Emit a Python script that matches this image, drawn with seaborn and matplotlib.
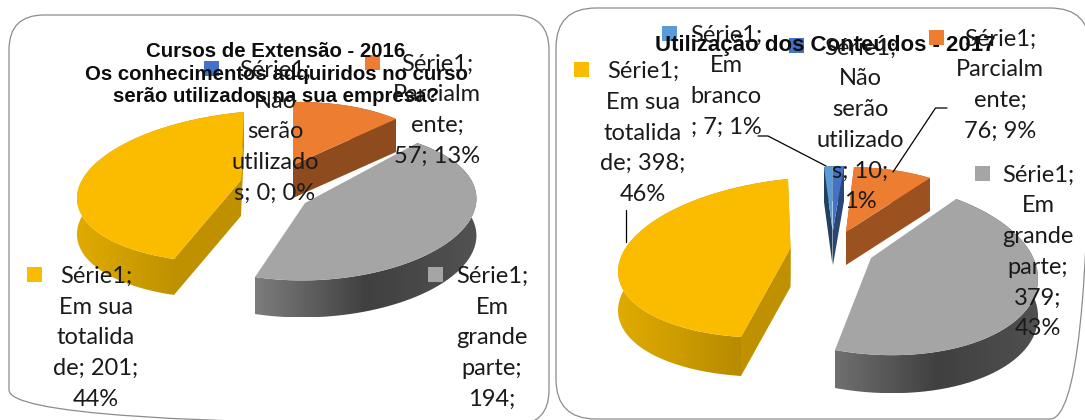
import numpy as np
import seaborn as sns
import matplotlib
matplotlib.use("Agg")
import matplotlib.pyplot as plt
from matplotlib.colors import LinearSegmentedColormap
from matplotlib.patches import FancyBboxPatch, PathPatch, Polygon, Rectangle
from matplotlib.path import Path
from matplotlib.transforms import Transform

# =======================
# Data
# =======================
values_2016 = [0, 57, 194, 201]
labels_2016 = [
    "Série1;\nNão\nserão\nutilizado\ns; 0; 0%",
    "Série1;\nParcialm\nente;\n57; 13%",
    "Série1;\nEm\ngrande\nparte;\n194;",
    "Série1;\nEm sua\ntotalida\nde; 201;\n44%",
]
values_2017 = [7, 10, 76, 379, 398]
labels_2017 = [
    "Série1;\nEm\nbranco\n; 7; 1%",
    "Série1;\nNão\nserão\nutilizado\ns; 10;\n1%",
    "Série1;\nParcialm\nente;\n76; 9%",
    "Série1;\nEm\ngrande\nparte;\n379;\n43%",
    "Série1;\nEm sua\ntotalida\nde; 398;\n46%",
]
title_2016 = "Cursos de Extensão - 2016\nOs conhecimentos adquiridos no curso\nserão utilizados na sua empresa?"
title_2017 = "Utilização dos Conteúdos - 2017"

colors_2016 = ["#4472C4", "#ED7D31", "#A5A5A5", "#FBBC00"]
colors_2017 = ["#5B9BD5", "#4472C4", "#ED7D31", "#A5A5A5", "#FBBC00"]
# grey has no visible cut face
cuts_2016 = ["#2A4578", "#8E4B1E", None, "#BF9000"]
cuts_2017 = ["#22405C", "#2A4578", "#9C5220", None, "#BF9000"]
rims_2016 = [
    ["#2A4578", "#2A4578"],
    ["#8E4B1E", "#8E4B1E"],
    ["#7D7D7D", "#404040", "#525252"],
    ["#E0AB00", "#A87F00"],
]
rims_2017 = [
    ["#22405C", "#22405C"],
    ["#2A4578", "#2A4578"],
    ["#9C5220", "#9C5220"],
    ["#707070", "#404040", "#505050"],
    ["#E0AB00", "#A87F00"],
]

# layout in pixels: slice centre, clockwise start corner, clockwise end corner,
# and where one more circle point lands for the two big slices
corners_2016 = [
    None,
    [(293, 165), (293, 102), (396, 119), None],
    [(305, 203), (417, 143), (255, 277), ((0.643, -0.766), (420, 258))],
    [(241, 180), (174, 259), (244, 112), ((-1, 0), (78, 190))],
]
corners_2017 = [
    [(832.5, 230), (824, 167), (832.5, 166), None],
    [(833, 230), (833, 166), (844, 166), None],
    [(846, 232), (854, 167), (930, 178), None],
    [(871, 258), (956, 199), (835, 350), ((0.643, -0.766), (997, 333))],
    [(790.5, 248), (741, 337), (788, 179), ((-1, 0), (619, 263))],
]
depths_2016 = [0, 33, 37, 36]
depths_2017 = [35, 35, 33, 38, 39]

keys_2016 = [(204, 61), (365, 55), (428, 267), (27, 267)]
keys_2017 = [(662, 26), (789, 38), (929, 30), (975, 166), (574, 62)]
label_pos_2016 = [(275, 132), (437, 110), (492, 338), (96, 338)]
label_pos_2017 = [(726, 81), (860, 125), (1000, 85), (1038, 252), (643, 133)]
leaders_2017 = [
    [(758, 136), (768, 136), (826, 166)],
    [(947, 108), (935.5, 108), (893, 172)],
    [(626, 210), (626, 242)],
]

# =======================
# Figure
# =======================
sns.set_theme(style="white")
plt.rcParams["font.family"] = ["Lato", "DejaVu Sans"]

fig = plt.figure(figsize=(10.85, 4.2), dpi=100)
ax = fig.add_axes([0, 0, 1, 1])


class Projection(Transform):
    # perspective view of the flat pie
    input_dims = 2
    output_dims = 2

    def __init__(self, mat):
        super().__init__()
        self.mat = mat

    def transform_non_affine(self, values):
        pts = np.column_stack([values, np.ones(len(values))]) @ self.mat.T
        return pts[:, :2] / pts[:, 2:]


def fit_projection(src, dst):
    # 3 pairs give an affine, 4 pairs a full perspective
    rows, rhs = [], []
    for (x, y), (u, v) in zip(src, dst):
        if len(src) == 4:
            rows.append([x, y, 1, 0, 0, 0, -u * x, -u * y])
            rows.append([0, 0, 0, x, y, 1, -v * x, -v * y])
        else:
            rows.append([x, y, 1, 0, 0, 0])
            rows.append([0, 0, 0, x, y, 1])
        rhs += [u, v]
    sol = np.linalg.solve(np.array(rows, dtype=float), np.array(rhs, dtype=float))
    if len(src) == 4:
        return np.append(sol, 1).reshape(3, 3)
    return np.append(sol, [0, 0, 1]).reshape(3, 3)


def slice_transform(wedge, center, start, end, extra):
    a1, a2 = np.radians(wedge.theta1), np.radians(wedge.theta2)
    src = [(0, 0), (np.cos(a2), np.sin(a2)), (np.cos(a1), np.sin(a1))]
    dst = [center, start, end]
    if extra is not None:
        src.append(extra[0])
        dst.append(extra[1])
    return Projection(fit_projection(src, dst))


def draw_pie(values, colors, cuts, rims, corners, depths):
    wedges, _ = ax.pie(values, colors=colors, startangle=90, counterclock=False)
    for n, wedge in enumerate(wedges):
        if values[n] == 0:
            wedge.set_visible(False)
            continue
        trans = slice_transform(wedge, *corners[n])
        wedge.set_transform(trans + ax.transData)
        wedge.set_linewidth(0)
        wedge.set_zorder(3)

        # rim: ribbon between the arc and the same arc moved down
        angles = np.radians(np.linspace(wedge.theta1, wedge.theta2, 120))
        arc = trans.transform(np.column_stack([np.cos(angles), np.sin(angles)]))
        low = arc + [0, depths[n]]
        ribbon = np.vstack([arc, low[::-1], arc[:1]])
        cmap = LinearSegmentedColormap.from_list("rim", rims[n])
        im = ax.imshow(
            np.linspace(0, 1, 256)[None, :], cmap=cmap, aspect="auto", zorder=1,
            extent=(ribbon[:, 0].min(), ribbon[:, 0].max(), ribbon[:, 1].max(), ribbon[:, 1].min()),
        )
        im.set_clip_path(PathPatch(Path(ribbon), transform=ax.transData))

        # the two cut faces
        if cuts[n] is None:
            continue
        center = np.array(corners[n][0], dtype=float)
        down = np.array([0, depths[n]])
        for corner in (corners[n][1], corners[n][2]):
            corner = np.array(corner, dtype=float)
            ax.add_patch(Polygon([center, corner, corner + down, center + down],
                                 facecolor=cuts[n], edgecolor="none", zorder=2))


def draw_labels(labels, colors, positions, keys):
    for text, color, pos, key in zip(labels, colors, positions, keys):
        ax.add_patch(Rectangle(key, 15, 15, facecolor=color, edgecolor="none", zorder=4))
        ax.text(pos[0], pos[1], text, ha="center", va="center", fontsize=17,
                linespacing=1.57, color="#1A1A1A", zorder=6)


draw_pie(values_2016, colors_2016, cuts_2016, rims_2016, corners_2016, depths_2016)
draw_pie(values_2017, colors_2017, cuts_2017, rims_2017, corners_2017, depths_2017)

ax.add_patch(FancyBboxPatch((44, 50), 470, 340, boxstyle="round,pad=35,rounding_size=35",
                            facecolor="none", edgecolor="#8C8C8C", linewidth=0.9, zorder=0))
ax.add_patch(FancyBboxPatch((596, 48), 454, 331, boxstyle="round,pad=40,rounding_size=40",
                            facecolor="none", edgecolor="#8C8C8C", linewidth=0.9, zorder=0))

draw_labels(labels_2016, colors_2016, label_pos_2016, keys_2016)
draw_labels(labels_2017, colors_2017, label_pos_2017, keys_2017)

for line in leaders_2017:
    xs, ys = zip(*line)
    ax.plot(xs, ys, color="black", linewidth=0.9, zorder=5)

ax.text(276, 74, title_2016, ha="center", va="center", fontsize=14.7, fontweight="bold",
        family=["Liberation Sans"], linespacing=1.22, color="#0D0D0D", zorder=5)
ax.text(825, 45, title_2017, ha="center", va="center", fontsize=16.0, fontweight="bold",
        family=["Liberation Sans"], color="#0D0D0D", zorder=5)

ax.set_aspect("auto")
ax.set_xlim(0, 1085)
ax.set_ylim(420, 0)
ax.set_axis_off()

fig.savefig("out.png", dpi=100, facecolor="white")
